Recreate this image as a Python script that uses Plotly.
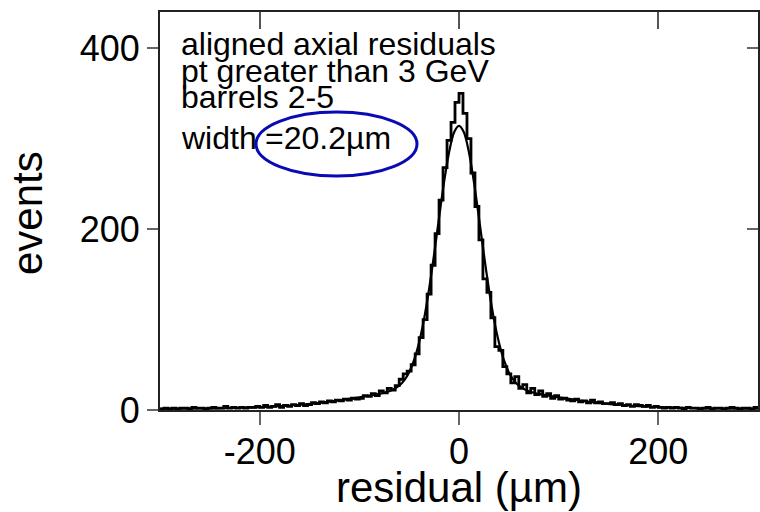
import plotly.graph_objects as go

# ---------------- data ----------------
bin_width = 4
bin_start = -300
counts = [
    # -300 .. -200
    1, 2, 1, 2, 1, 2, 2, 1, 3, 2, 2, 1, 2, 3, 2, 2, 4, 2, 3, 2, 3, 2, 3, 3, 4,
    # -200 .. -148
    3, 5, 3, 4, 6, 3, 5, 4, 6, 5, 7, 5, 6,
    # -148 .. -100
    8, 7, 9, 8, 10, 9, 11, 10, 12, 11, 13, 12,
    # -100 .. -60
    13, 16, 15, 18, 16, 21, 19, 24, 22, 27,
    # -60 .. 0
    34, 40, 43, 50, 62, 80, 100, 128, 160, 195, 232, 268, 298, 318, 340,
    # 0 .. 100
    350, 328, 300, 262, 225, 188, 145, 130, 102, 70, 66, 48, 40, 30, 37,
    24, 28, 19, 24, 17, 21, 15, 18, 13, 16,
    # 100 .. 148
    12, 13, 11, 10, 12, 9, 10, 8, 11, 8, 9, 7,
    # 148 .. 200
    7, 8, 6, 7, 5, 6, 4, 6, 5, 4, 5, 3, 4,
    # 200 .. 300
    3, 2, 3, 2, 3, 2, 1, 3, 2, 2, 1, 2, 3, 1, 2, 2, 1, 2, 3, 2, 1, 2, 2, 1, 3,
]

fit_x = [-300, -260, -230, -200, -180, -160, -140, -120, -100, -90, -80, -70,
         -60, -55, -50, -45, -40, -35, -30, -25, -20, -15, -10, -5, 0,
         5, 10, 15, 20, 25, 30, 35, 40, 45, 50, 55, 60, 70, 80, 90, 100,
         120, 140, 160, 180, 200, 230, 260, 300]
fit_y = [1.6, 1.7, 2.2, 3.1, 4.2, 5.8, 7.9, 10.7, 14.0, 15.8, 17.8, 20.7,
         26.9, 32.7, 41.8, 55.4, 74.9, 101, 133.8, 171.9, 212.7, 251.9, 284.7, 306.7, 314,
         306.7, 284.7, 251.9, 212.7, 171.9, 133.8, 101, 74.9, 55.4, 41.8, 32.7, 26.9, 20.7, 17.8, 15.8, 14.0,
         10.7, 7.9, 5.8, 4.2, 3.1, 2.2, 1.7, 1.6]

x_tickvals = [-200, 0, 200]
x_ticktext = ["-200", "0", "200"]
y_tickvals = [0, 200, 400]
y_ticktext = ["0", "200", "400"]
x_range = [-300, 300]
y_range = [0, 440]

info_lines = ["aligned axial residuals", "pt greater than 3 GeV", "barrels 2-5"]
width_label = "width"
width_value = "=20.2µm"
x_title = "residual (µm)"
y_title = "events"

# ---------------- figure ----------------
edges = [bin_start + i * bin_width for i in range(len(counts) + 1)]
step_y = counts + [counts[-1]]

FONT = "Liberation Sans, Arial, Helvetica, sans-serif"
L, R, T, B = 160, 2, 12, 102
W, H = 760, 512
PW, PH = W - L - R, H - T - B


def px(xp):
    return (xp - L) / PW


def py(yp):
    return (H - B - yp) / PH


fig = go.Figure()
fig.add_trace(go.Scatter(x=edges, y=step_y, mode="lines",
                         line=dict(color="black", width=2.8, shape="hv"),
                         hoverinfo="skip", showlegend=False))
fig.add_trace(go.Scatter(x=fit_x, y=fit_y, mode="lines",
                         line=dict(color="black", width=2.2, shape="spline", smoothing=0.8),
                         hoverinfo="skip", showlegend=False))
# carrier trace for the mirrored (inside) tick axes
fig.add_trace(go.Scatter(x=fit_x, y=fit_y, xaxis="x2", yaxis="y2", mode="lines",
                         line=dict(color="rgba(0,0,0,0)", width=0),
                         hoverinfo="skip", showlegend=False))

axis_common = dict(showgrid=False, zeroline=False, tickfont=dict(family=FONT, size=36, color="black"))

fig.update_layout(
    width=W, height=H,
    margin=dict(l=L, r=R, t=T, b=B, autoexpand=False),
    paper_bgcolor="white", plot_bgcolor="white",
    xaxis=dict(range=x_range, tickvals=x_tickvals, ticktext=x_ticktext, ticks="outside", ticklen=13,
               tickwidth=2, tickcolor="#666", showline=True, linecolor="#222",
               linewidth=2, mirror=True, ticklabelstandoff=-4, **axis_common),
    yaxis=dict(range=y_range, tickvals=y_tickvals, ticktext=y_ticktext, ticks="outside", ticklen=11,
               tickwidth=2, tickcolor="#666", showline=True, linecolor="#222",
               linewidth=2, mirror=True, ticklabelstandoff=0, **axis_common),
    xaxis2=dict(range=x_range, tickvals=x_tickvals, ticks="inside", ticklen=17,
                tickwidth=2, tickcolor="#555", showticklabels=False, showgrid=False,
                zeroline=False, overlaying="x", side="top", showline=False),
    yaxis2=dict(range=y_range, tickvals=y_tickvals, ticks="inside", ticklen=11,
                tickwidth=2, tickcolor="#666", showticklabels=False, showgrid=False,
                zeroline=False, overlaying="y", side="right", showline=False),
)

annots = []
line_centers = [44, 71, 97]
for txt, yc in zip(info_lines, line_centers):
    annots.append(dict(text=txt, x=px(179), y=py(yc), xref="paper", yref="paper",
                       xanchor="left", yanchor="middle", showarrow=False,
                       font=dict(family=FONT, size=32, color="black")))
annots.append(dict(text=width_label, x=px(179), y=py(138), xref="paper", yref="paper",
                   xanchor="left", yanchor="middle", showarrow=False,
                   font=dict(family=FONT, size=32, color="black")))
annots.append(dict(text=width_value, x=px(263), y=py(138), xref="paper", yref="paper",
                   xanchor="left", yanchor="middle", showarrow=False,
                   font=dict(family=FONT, size=32, color="black")))
annots.append(dict(text=x_title, x=px(459), y=py(487), xref="paper", yref="paper",
                   xanchor="center", yanchor="middle", showarrow=False,
                   font=dict(family=FONT, size=42, color="black")))
annots.append(dict(text=y_title, x=px(27), y=py(213), xref="paper", yref="paper",
                   xanchor="center", yanchor="middle", showarrow=False, textangle=-90,
                   font=dict(family=FONT, size=42, color="black")))
fig.update_layout(annotations=annots)

fig.add_shape(type="circle", xref="paper", yref="paper",
              x0=px(256), x1=px(417), y0=py(176), y1=py(112),
              line=dict(color="#0a0ab4", width=3))

fig.write_html("out.html",
               config={"displayModeBar": False},
               post_script="document.body.style.margin='0px';document.body.style.padding='0px';")
